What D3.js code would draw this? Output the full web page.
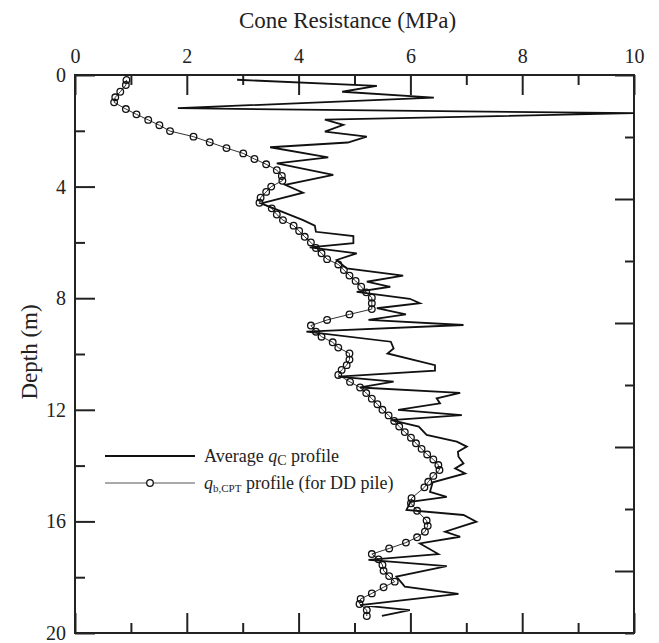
<!DOCTYPE html>
<html>
<head>
<meta charset="utf-8">
<script src="https://cdn.jsdelivr.net/npm/d3@7"></script>
<style>
  body { margin: 0; background: #fff; }
</style>
</head>
<body>
<div id="chart"></div>
<script>
// average qc profile (depth in m, cone resistance in MPa)
var qcDepth = [0.17, 0.39, 0.6, 0.81, 1.19, 1.37, 1.6, 1.79, 2.03, 2.21, 2.42, 2.59, 2.95, 3.17, 3.58, 3.94, 4.22, 4.6,
  5.2, 5.4, 5.62, 5.77, 6.03, 6.18, 6.39, 6.63, 6.93, 7.19, 7.41, 7.59, 7.77, 8.02, 8.18, 8.36, 8.58, 8.78, 8.96, 9.2,
  9.56, 9.8, 9.98, 10.4, 10.6, 10.81, 10.99, 11.2, 11.39, 11.59, 11.77, 12.0, 12.19, 12.37, 12.6, 12.9, 13.14, 13.32,
  13.5, 13.68, 13.92, 14.1, 14.28, 14.6, 14.94, 15.12, 15.3, 15.59, 15.77, 16.01, 16.37, 16.55, 16.79, 17.17, 17.38,
  17.6, 17.98, 18.34, 18.6, 19.0, 19.18, 19.39];
var qcValue = [2.9, 5.4, 4.78, 6.42, 1.84, 10.0, 4.47, 4.8, 4.47, 5.22, 4.88, 3.49, 4.53, 3.61, 4.62, 3.76, 4.08, 3.33,
  4.08, 4.29, 4.31, 4.98, 4.98, 4.2, 5.04, 4.68, 4.86, 5.87, 5.22, 5.64, 5.04, 5.99, 6.17, 5.4, 5.92, 5.25, 6.95, 4.14,
  5.65, 5.7, 5.59, 6.44, 6.44, 4.71, 5.7, 5.1, 6.89, 6.47, 6.53, 5.78, 6.92, 5.66, 6.15, 6.29, 6.83, 7.01,
  6.85, 6.86, 6.95, 6.8, 6.98, 6.4, 6.35, 6.65, 6.0, 5.93, 6.95, 7.18, 6.62, 6.89, 6.17, 6.5, 5.25,
  6.65, 5.75, 5.9, 6.86, 5.1, 5.99, 5.49];

// qb,CPT profile for DD pile
var qbDepth = [0.18, 0.36, 0.6, 0.8, 0.98, 1.22, 1.41, 1.61, 1.8, 2.01, 2.21, 2.41, 2.62, 2.81, 3.01, 3.2, 3.41, 3.62,
  3.79, 4.0, 4.19, 4.4, 4.58, 4.78, 5.0, 5.2, 5.4, 5.59, 5.8, 6.0, 6.2, 6.39, 6.6, 6.79, 6.99, 7.19, 7.38, 7.59, 7.79,
  7.98, 8.18, 8.39, 8.58, 8.78, 8.98, 9.2, 9.38, 9.58, 9.77, 9.98, 10.2, 10.4, 10.57, 10.75, 11.0, 11.2, 11.4, 11.6,
  11.8, 12.0, 12.2, 12.4, 12.6, 12.8, 13.0, 13.2, 13.4, 13.6, 13.78, 13.98, 14.16, 14.37, 14.58, 14.78, 15.17, 15.35,
  15.62, 15.97, 16.16, 16.37, 16.57, 16.76, 16.97, 17.17, 17.36, 17.56, 17.77, 17.96, 18.16, 18.36, 18.58, 18.78,
  18.96, 19.18, 19.39];
var qbValue = [0.92, 0.91, 0.81, 0.72, 0.7, 0.91, 1.1, 1.31, 1.51, 1.7, 2.12, 2.41, 2.71, 3.01, 3.21, 3.42, 3.61, 3.7,
  3.71, 3.51, 3.42, 3.32, 3.3, 3.52, 3.61, 3.72, 3.91, 4.01, 4.11, 4.22, 4.31, 4.41, 4.51, 4.71, 4.81, 4.91, 5.02, 5.12, 5.21,
  5.31, 5.31, 5.31, 4.91, 4.51, 4.22, 4.31, 4.41, 4.61, 4.71, 4.91, 4.91, 4.86, 4.77, 4.71, 4.92, 5.1, 5.21, 5.31,
  5.41, 5.5, 5.61, 5.71, 5.8, 5.9, 6.01, 6.1, 6.2, 6.3, 6.41, 6.5, 6.52, 6.41, 6.32, 6.25, 6.02, 6.01,
  6.12, 6.29, 6.31, 6.26, 6.12, 5.92, 5.62, 5.31, 5.43, 5.5, 5.52, 5.62, 5.72, 5.52, 5.31, 5.11,
  5.09, 5.22, 5.22];

var xMajor = [0, 2, 4, 6, 8, 10];
var xMinor = [1, 3, 5, 7, 9];
var yMajor = [0, 4, 8, 12, 16, 20];
var yMinor = [2, 6, 10, 14, 18];
// the right-hand axis in the original has its own (unlabelled) spacing
var rMajor = [0, 1, 2, 3, 4];
var rMinor = [0.5, 1.5, 2.5, 3.5, 4.5];

var FONT = "'Liberation Serif', 'Times New Roman', Times, 'DejaVu Serif', serif";

var qcData = qcDepth.map(function(d, i) { return { depth: d, q: qcValue[i] }; });
var qbData = qbDepth.map(function(d, i) { return { depth: d, q: qbValue[i] }; });

var margin = {top: 75, left: 75},
    width = 559,
    height = 558;

var svg = d3.select("#chart")
  .append("svg")
    .attr("width", 659)
    .attr("height", 643)
    .style("font-family", FONT)
  .append("g")
    .attr("transform", "translate(" + margin.left + "," + margin.top + ")");

var x = d3.scaleLinear().domain([0, 10]).range([0, width]);
var y = d3.scaleLinear().domain([0, 20]).range([0, height]);
var yR = d3.scaleLinear().domain([0, 4.5]).range([0, height]);

function styleAxis(g) {
  g.attr("font-family", FONT);
  g.select(".domain").remove();
  g.selectAll(".tick line").attr("stroke", "#222").attr("stroke-width", 2);
  g.selectAll(".tick text")
    .attr("font-size", "20px")
    .attr("fill", "#222")
    .style("font-family", FONT);
}

// top axis with labels
svg.append("g")
  .call(d3.axisTop(x).tickValues(xMajor).tickSize(-20).tickPadding(12).tickFormat(d3.format("d")))
  .call(styleAxis);
svg.append("g")
  .call(d3.axisTop(x).tickValues(xMinor).tickSize(-10).tickFormat(""))
  .call(styleAxis);

// bottom axis
svg.append("g")
  .attr("transform", "translate(0," + height + ")")
  .call(d3.axisBottom(x).tickValues(xMajor).tickSize(-20).tickFormat(""))
  .call(styleAxis);
svg.append("g")
  .attr("transform", "translate(0," + height + ")")
  .call(d3.axisBottom(x).tickValues(xMinor).tickSize(-10).tickFormat(""))
  .call(styleAxis);

// left axis with labels
svg.append("g")
  .call(d3.axisLeft(y).tickValues(yMajor).tickSize(-20).tickPadding(9).tickFormat(d3.format("d")))
  .call(styleAxis);
svg.append("g")
  .call(d3.axisLeft(y).tickValues(yMinor).tickSize(-10).tickFormat(""))
  .call(styleAxis);

// right axis
svg.append("g")
  .attr("transform", "translate(" + width + ",0)")
  .call(d3.axisRight(yR).tickValues(rMajor).tickSize(-19).tickFormat(""))
  .call(styleAxis);
svg.append("g")
  .attr("transform", "translate(" + width + ",0)")
  .call(d3.axisRight(yR).tickValues(rMinor).tickSize(-9).tickFormat(""))
  .call(styleAxis);

// frame
svg.append("rect")
  .attr("x", 0).attr("y", 0)
  .attr("width", width).attr("height", height)
  .attr("fill", "none")
  .attr("stroke", "#222")
  .attr("stroke-width", 2);

var line = d3.line()
  .x(function(d) { return x(d.q); })
  .y(function(d) { return y(d.depth); });

// qb,CPT line + circles
svg.append("path")
  .datum(qbData)
  .attr("fill", "none")
  .attr("stroke", "#333")
  .attr("stroke-width", 1)
  .attr("d", line);

svg.selectAll(".qb")
  .data(qbData)
  .enter().append("circle")
    .attr("class", "qb")
    .attr("cx", function(d) { return x(d.q); })
    .attr("cy", function(d) { return y(d.depth); })
    .attr("r", 3.3)
    .attr("fill", "none")
    .attr("stroke", "#111")
    .attr("stroke-width", 1.3);

// average qc line
svg.append("path")
  .datum(qcData)
  .attr("fill", "none")
  .attr("stroke", "#111")
  .attr("stroke-width", 1.8)
  .attr("d", line);

// axis titles
svg.append("text")
  .attr("x", width / 2 - 7)
  .attr("y", -47)
  .attr("text-anchor", "middle")
  .attr("font-size", "23px")
  .attr("fill", "#222")
  .style("font-family", FONT)
  .text("Cone Resistance (MPa)");

svg.append("text")
  .attr("transform", "rotate(-90)")
  .attr("x", -height / 2 + 2)
  .attr("y", -38)
  .attr("text-anchor", "middle")
  .attr("font-size", "23px")
  .attr("fill", "#222")
  .style("font-family", FONT)
  .text("Depth (m)");

// legend
var legend = svg.append("g").attr("transform", "translate(30,381)");
legend.append("line")
  .attr("x1", 0).attr("x2", 90).attr("y1", 0).attr("y2", 0)
  .attr("stroke", "#111").attr("stroke-width", 1.8);
var t1 = legend.append("text").attr("x", 99).attr("y", 6)
  .attr("font-size", "18px").attr("fill", "#222").style("font-family", FONT);
t1.append("tspan").text("Average ");
t1.append("tspan").attr("font-style", "italic").text("q");
t1.append("tspan").attr("font-size", "14px").attr("dy", 3).text("C");
t1.append("tspan").attr("dy", -3).text(" profile");

legend.append("line")
  .attr("x1", 0).attr("x2", 90).attr("y1", 27).attr("y2", 27)
  .attr("stroke", "#555").attr("stroke-width", 1);
legend.append("circle")
  .attr("cx", 45).attr("cy", 27).attr("r", 3.3)
  .attr("fill", "#fff").attr("stroke", "#111").attr("stroke-width", 1.3);
var t2 = legend.append("text").attr("x", 99).attr("y", 33)
  .attr("font-size", "18px").attr("fill", "#222").style("font-family", FONT);
t2.append("tspan").attr("font-style", "italic").text("q");
t2.append("tspan").attr("font-size", "11px").attr("dy", 3).text("b,CPT");
t2.append("tspan").attr("dy", -3).text(" profile (for DD pile)");
</script>
</body>
</html>
